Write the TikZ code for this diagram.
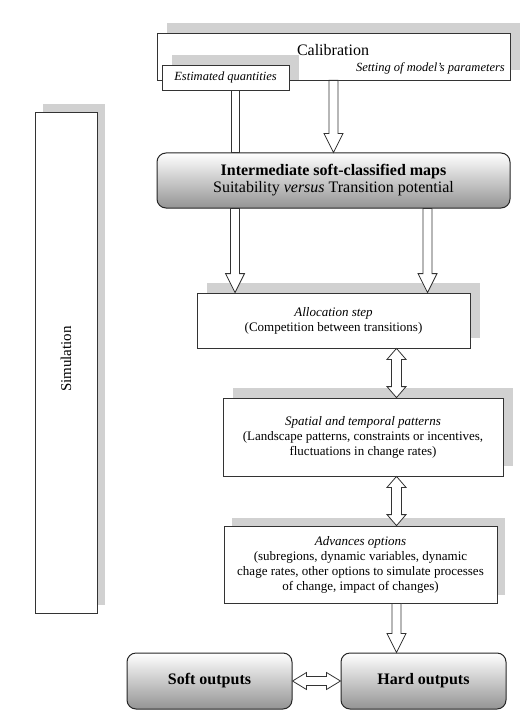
\documentclass[tikz,border=0pt]{standalone}
\usepackage{fontspec}
\setmainfont{Liberation Serif}
\usetikzlibrary{shadows,calc}
\newcommand\arrowdown[2]{%
  \path[blockarrow] let \p1=#1, \p2=#2 in
   (\x1-4.5pt,\y1) -- (\x1-4.5pt,\y2+19pt) -- (\x1-9.5pt,\y2+19pt) -- (\x1,\y2)
   -- (\x1+9.5pt,\y2+19pt) -- (\x1+4.5pt,\y2+19pt) -- (\x1+4.5pt,\y1) -- cycle;}
\newcommand\arrowvboth[2]{%
  \path[blockarrow] let \p1=#1, \p2=#2 in
   (\x1,\y1) -- (\x1+9.5pt,\y1-11pt) -- (\x1+5pt,\y1-11pt) -- (\x1+5pt,\y2+11pt)
   -- (\x1+9.5pt,\y2+11pt) -- (\x1,\y2) -- (\x1-9.5pt,\y2+11pt) -- (\x1-5pt,\y2+11pt)
   -- (\x1-5pt,\y1-11pt) -- (\x1-9.5pt,\y1-11pt) -- cycle;}
\newcommand\arrowhboth[2]{%
  \path[blockarrow] let \p1=#1, \p2=#2 in
   (\x1,\y1) -- (\x1+14pt,\y1+8.5pt) -- (\x1+14pt,\y1+4.5pt) -- (\x2-14pt,\y1+4.5pt)
   -- (\x2-14pt,\y1+8.5pt) -- (\x2,\y1) -- (\x2-14pt,\y1-8.5pt) -- (\x2-14pt,\y1-4.5pt)
   -- (\x1+14pt,\y1-4.5pt) -- (\x1+14pt,\y1-8.5pt) -- cycle;}
\newcommand\shaftonly[2]{%
  \path[blockarrow] let \p1=#1, \p2=#2 in
   (\x1-4pt,\y1) rectangle (\x1+4pt,\y2);}
\begin{document}
\begin{tikzpicture}[x=1pt,y=-1pt,
  line/.style={draw=black!80,line width=0.8pt},
  blockarrow/.style={line,fill=white,line join=miter},
  shade10/.style={drop shadow={shadow xshift=10pt,shadow yshift=10pt,fill=black!18,opacity=1}},
  shade8/.style={drop shadow={shadow xshift=8pt,shadow yshift=8pt,fill=black!18,opacity=1}},
  plainbox/.style={line,fill=white,rectangle,inner sep=0pt,align=center,
     font=\fontsize{13}{15}\selectfont},
  roundbox/.style={line,rectangle,rounded corners=9pt,inner sep=0pt,align=center,
     top color=white,bottom color=black!42,draw=black!85,line width=1pt},
  small/.style={font=\fontsize{12.5}{14}\selectfont\itshape,inner sep=0pt}
]
\useasboundingbox (0,0) rectangle (528,722);

% Simulation
\node[plainbox,shade8,minimum width=62,minimum height=501] (sim) at (66,362.5) {};
\node[rotate=90,font=\fontsize{15}{17}\selectfont,inner sep=0pt] (simtxt) at (66,359) {Simulation};

% Calibration
\node[plainbox,shade10,minimum width=353,minimum height=47] (cal) at (333.5,56.5) {};
\node[font=\fontsize{16}{18}\selectfont,inner sep=0pt] (caltxt) at (333,50) {Calibration};
\node[small,anchor=east] (settxt) at (505,68) {Setting of model's parameters};
\node[plainbox,shade10,minimum width=127,minimum height=25,
      font=\fontsize{12.5}{14}\selectfont\itshape] (est) at (225.5,77.5) {Estimated quantities};

% Intermediate
\node[roundbox,minimum width=353,minimum height=55,
      font=\fontsize{16}{17}\selectfont] (inter) at (333.5,180.5)
  {\textbf{Intermediate soft-classified maps}\\Suitability \textit{versus} Transition potential};

% Allocation
\node[plainbox,shade10,minimum width=273,minimum height=55] (alloc) at (333.5,320.5)
  {\textit{Allocation step}\\(Competition between transitions)};

% Spatial
\node[plainbox,shade10,minimum width=280,minimum height=78] (spat) at (363,437)
  {\textit{Spatial and temporal patterns}\\(Landscape patterns, constraints or incentives,\\fluctuations in change rates)};

% Advances
\node[plainbox,shade8,minimum width=273,minimum height=77] (adv) at (360.5,564.5)
  {\textit{Advances options}\\(subregions, dynamic variables, dynamic\\chage rates, other options to simulate processes\\of change, impact of changes)};

% Outputs
\node[roundbox,minimum width=165,minimum height=56,font=\fontsize{16}{18}\selectfont\bfseries] (soft) at (209.5,681) {Soft outputs};
\node[roundbox,minimum width=165,minimum height=56,font=\fontsize{16}{18}\selectfont\bfseries] (hard) at (423.5,681) {Hard outputs};

% arrow x positions
\coordinate (xl) at (235,0);
\coordinate (xr) at (427.5,0);
\coordinate (xm) at (396.5,0);

% connectors
\shaftonly{(est.south -| xl)}{(inter.north -| xl)}
\arrowdown{(cal.south)}{(inter.north)}
\arrowdown{(inter.south -| xl)}{(alloc.north -| xl)}
\arrowdown{(inter.south -| xr)}{(alloc.north -| xr)}
\arrowvboth{(alloc.south -| xm)}{(spat.north -| xm)}
\arrowvboth{(spat.south -| xm)}{(adv.north -| xm)}
\arrowdown{(adv.south -| xm)}{(hard.north -| xm)}
\arrowhboth{(soft.east)}{(hard.west)}
\end{tikzpicture}
\end{document}
